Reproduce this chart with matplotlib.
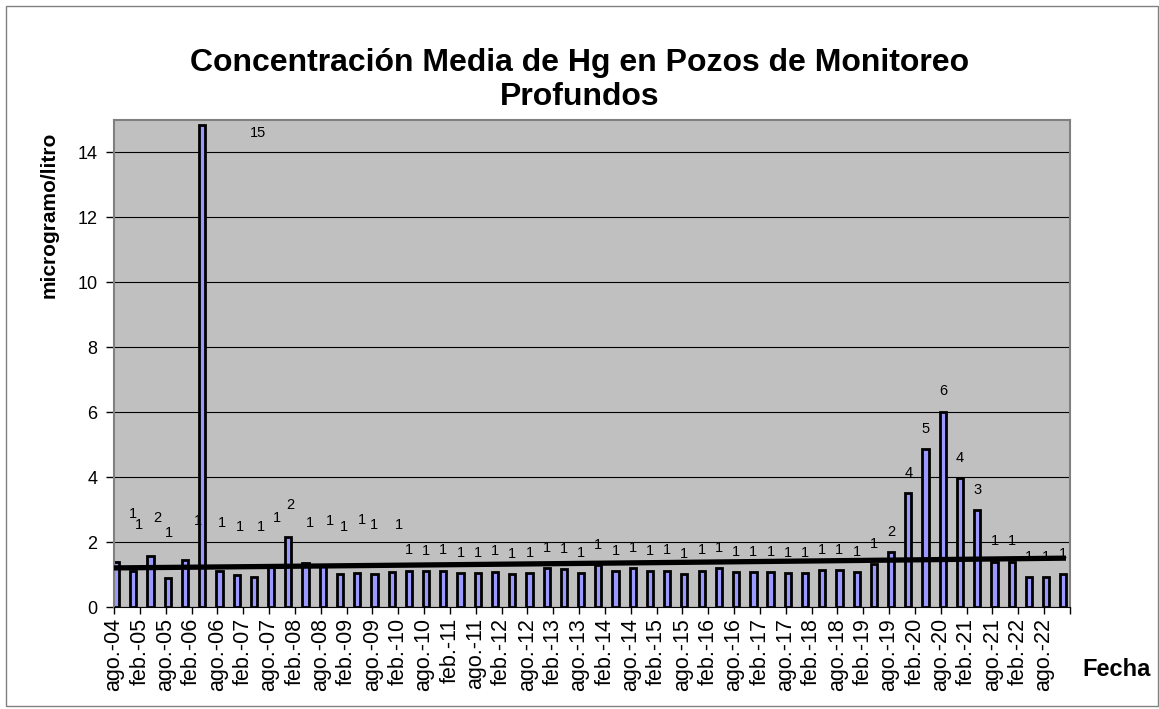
import datetime as dt
import numpy as np
import matplotlib
matplotlib.use("Agg")
import matplotlib.pyplot as plt
import matplotlib.dates as mdates
from matplotlib.patches import Rectangle

plt.rcParams['font.family'] = ['Liberation Sans', 'DejaVu Sans']

# mean Hg concentration, one sample every 4 months from ago-2004 to dic-2022
start = (2004, 8)
values = [
    1.40, 1.12, 1.58, 0.90, 1.45, 14.84, 1.12, 0.98, 0.93, 1.25,
    2.16, 1.34, 1.25, 1.02, 1.04, 1.02, 1.08, 1.12, 1.10, 1.12,
    1.04, 1.04, 1.09, 1.02, 1.05, 1.20, 1.16, 1.04, 1.28, 1.10,
    1.21, 1.10, 1.12, 1.02, 1.12, 1.21, 1.08, 1.07, 1.08, 1.04,
    1.04, 1.15, 1.15, 1.07, 1.32, 1.68, 3.51, 4.87, 6.02, 3.98,
    2.98, 1.40, 1.40, 0.93, 0.93, 1.01,
]
months_es = {2: "feb.", 8: "ago."}

# data labels that were dragged by hand in the original: index -> (dx px, y)
label_moved = {
    0: (17, 2.86), 1: (6, 2.53), 2: (7, 2.75), 3: (1, 2.29), 4: (13, 2.64),
    5: (56, 14.6), 6: (3, 2.58), 7: (3, 2.47), 8: (7, 2.47), 9: (6, 2.73),
    10: (2, 3.15), 11: (4, 2.60), 12: (7, 2.66), 13: (4, 2.45), 14: (5, 2.69),
    15: (0, 2.53), 16: (7, 2.53),
}


def add_months(y, m, k):
    n = y * 12 + (m - 1) + k
    return n // 12, n % 12 + 1


dates = []
for i in range(len(values)):
    y, m = add_months(start[0], start[1], 4 * i)
    dates.append(dt.datetime(y, m, 16))

ticks = []
for i in range(38):
    y, m = add_months(2004, 8, 6 * i)
    ticks.append(dt.datetime(y, m, 1))
tick_labels = [f"{months_es[t.month]}-{t.year % 100:02d}" for t in ticks]
tick_labels[-1] = ""

fig = plt.figure(figsize=(11.59, 7.09), dpi=100)
fig.patches.append(Rectangle((6 / 1159, 0.004), 1 - 7 / 1159, 1 - 9 / 709,
                             transform=fig.transFigure, fill=False,
                             edgecolor="#808080", lw=1))
ax = fig.add_axes([114 / 1159, 1 - 607 / 709, (1070 - 114) / 1159, (607 - 120) / 709])
ax.set_facecolor("#C0C0C0")

xs = mdates.date2num(dates)
ax.bar(xs, values, width=44, color="#9999FF", edgecolor="black", linewidth=2.0, zorder=2)

# data labels (rounded)
for i, (x, v) in enumerate(zip(xs, values)):
    txt = f"{v:.0f}"
    if i in label_moved:
        dx, ly = label_moved[i]
        ax.annotate(txt, (x, ly), xytext=(dx * 0.72, 0), textcoords="offset points",
                    ha="center", va="center", fontsize=10.5, zorder=3)
    else:
        ax.annotate(txt, (x, v), xytext=(0, 14.5), textcoords="offset points",
                    ha="center", va="center", fontsize=10.5, zorder=3)

# exponential trend line
c = np.polyfit(xs, np.log(values), 1)
ax.plot(xs, np.exp(np.polyval(c, xs)), color="black", lw=3.8, zorder=4)

ax.set_xlim(dt.datetime(2004, 8, 1), dt.datetime(2023, 2, 1))
ax.set_ylim(0, 15)
ax.set_yticks(range(0, 15, 2))
ax.set_xticks(ticks)
ax.set_xticklabels(tick_labels, rotation=90, fontsize=15.5)
ax.tick_params(axis="y", labelsize=13, length=6, width=1, direction="out", pad=6)
ax.tick_params(axis="x", length=5, width=1, direction="out", pad=3)
ax.grid(axis="y", color="black", lw=0.8, zorder=1)
ax.set_axisbelow(True)
for s in ("top", "right", "left"):
    ax.spines[s].set_color("#808080")
    ax.spines[s].set_linewidth(1.5)
ax.spines["bottom"].set_color("black")

fig.text(0.5, 1 - 80 / 709, "Concentración Media de Hg en Pozos de Monitoreo\nProfundos",
         ha="center", va="center", fontsize=23, fontweight="bold", linespacing=1.15)
fig.text(49 / 1159, 1 - 215 / 709, "microgramo/litro", rotation=90, ha="center",
         va="center", fontsize=15, fontweight="bold")
fig.text(1117 / 1159, 1 - 670 / 709, "Fecha", ha="center", va="center",
         fontsize=17, fontweight="bold")

fig.savefig("out.png", dpi=100)
